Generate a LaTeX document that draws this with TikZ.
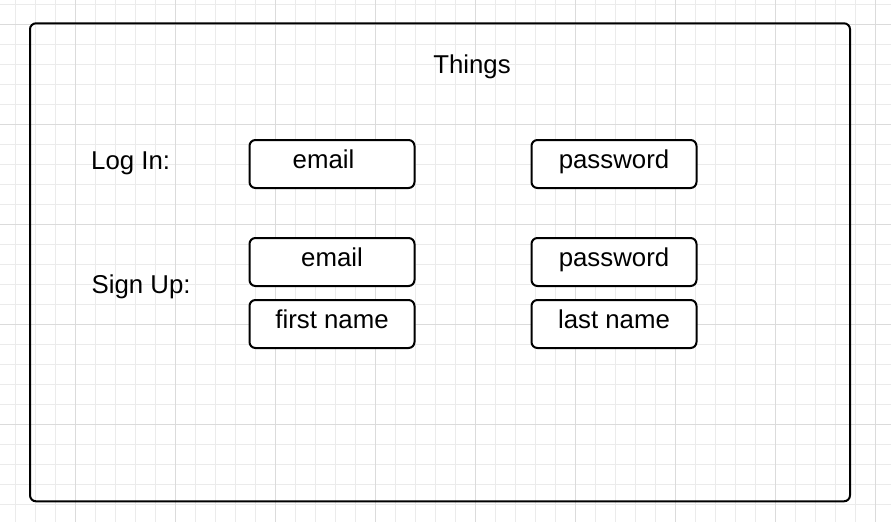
\documentclass[tikz,border=0pt]{standalone}
\usepackage{fontspec}
\setmainfont{Liberation Sans}
\usetikzlibrary{positioning}

\begin{document}
\begin{tikzpicture}[x=1pt, y=-1pt,
  gridminor/.style={line width=1pt, black!8},
  gridmajor/.style={line width=1pt, black!14},
  txt/.style={font=\fontsize{25.8}{30}\selectfont},
  field/.style={txt, draw, fill=white, line width=2pt, rounded corners=6pt,
    minimum width=165pt, minimum height=48pt, inner sep=0pt,
    text height=18pt, text depth=9.4pt}]

\useasboundingbox (0,0) rectangle (891,522);

% background grid
\foreach \gx in {15.5,35.5,...,876} \draw[gridminor] (\gx,0) -- (\gx,522);
\foreach \gy in {4.5,24.5,...,505} \draw[gridminor] (0,\gy) -- (891,\gy);
\foreach \gx in {75.5,175.5,...,876} \draw[gridmajor] (\gx,0) -- (\gx,522);
\foreach \gy in {24.5,124.5,...,425} \draw[gridmajor] (0,\gy) -- (891,\gy);

\node[draw, line width=2pt, rounded corners=6pt, minimum width=820pt,
  minimum height=478pt, inner sep=0pt] (frame) at (440,262.3) {};
\node[txt, anchor=base] (title) at (472,73.3) {Things};

\node[txt, anchor=base west, inner sep=0pt] (login) at (91,169) {Log In:};
\node[txt, anchor=base west, inner sep=0pt] (signup) at (91.5,293.3) {Sign Up:};

\node[field] (loginemail) at (332,164) {email\hspace*{17pt}};
\node[field] (loginpass) at (614,164) {password};

\node[field] (signemail) at (332,262) {email};
\node[field] (signpass) at (614,262) {password};
\node[field] (signfirst) at (332,324) {first name};
\node[field] (signlast) at (614,324) {last name};

\end{tikzpicture}
\end{document}
